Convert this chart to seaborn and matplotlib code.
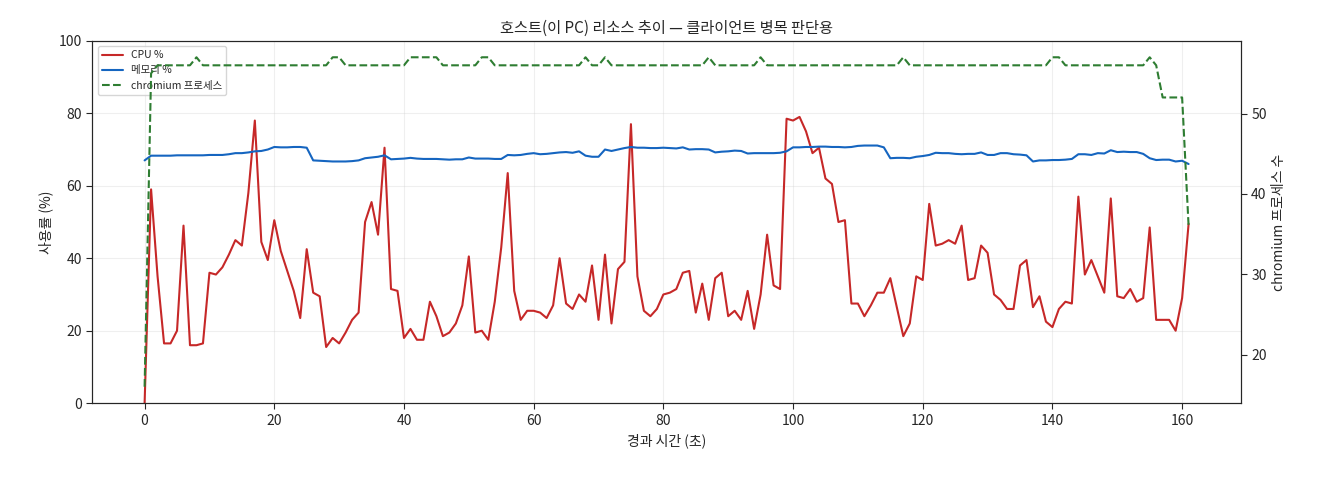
import numpy as np
import pandas as pd
import matplotlib
matplotlib.use("Agg")
import matplotlib.pyplot as plt
import seaborn as sns

sns.set_style("white")
plt.rcParams['font.family'] = ['Noto Sans CJK KR', 'DejaVu Sans']

cpu = [0, 59, 35, 16.5, 16.5, 20, 49, 16, 16, 16.5,
       36, 35.5, 37.5, 41, 45, 43.5, 58, 78, 44.5, 39.5,
       50.5, 42, 36.5, 31, 23.5, 42.5, 30.5, 29.5, 15.5, 18,
       16.5, 19.5, 23, 25, 50, 55.5, 46.5, 70.5, 31.5, 31,
       18, 20.5, 17.5, 17.5, 28, 24, 18.5, 19.5, 22, 27,
       40.5, 19.5, 20, 17.5, 28, 43, 63.5, 31, 23, 25.5,
       25.5, 25, 23.5, 27, 40, 27.5, 26, 30, 28, 38,
       23, 41, 22, 37, 39, 77, 35, 25.5, 24, 26,
       30, 30.5, 31.5, 36, 36.5, 25, 33, 23, 34.5, 36,
       24, 25.5, 23, 31, 20.5, 30, 46.5, 32.5, 31.5, 78.5,
       78, 79, 75, 69, 70.5, 62, 60.5, 50, 50.5, 27.5,
       27.5, 24, 27, 30.5, 30.5, 34.5, 26.5, 18.5, 22, 35,
       34, 55, 43.5, 44, 45, 44, 49, 34, 34.5, 43.5,
       41.5, 30, 28.5, 26, 26, 38, 39.5, 26.5, 29.5, 22.5,
       21, 26, 28, 27.5, 57, 35.5, 39.5, 35, 30.5, 56.5,
       29.5, 29, 31.5, 28, 29, 48.5, 23, 23, 23, 20,
       29, 49.5]

mem = [67.0, 68.3, 68.3, 68.3, 68.3, 68.4, 68.4, 68.4, 68.4, 68.4,
       68.5, 68.5, 68.5, 68.7, 69.0, 69.0, 69.2, 69.5, 69.6, 70.0,
       70.7, 70.6, 70.6, 70.7, 70.7, 70.5, 67.0, 66.9, 66.8, 66.7,
       66.7, 66.7, 66.8, 67.0, 67.6, 67.8, 68.0, 68.4, 67.3, 67.4,
       67.5, 67.7, 67.5, 67.4, 67.4, 67.4, 67.3, 67.2, 67.3, 67.3,
       67.8, 67.5, 67.5, 67.5, 67.4, 67.4, 68.5, 68.4, 68.5, 68.8,
       69.0, 68.7, 68.8, 69.0, 69.2, 69.3, 69.1, 69.5, 68.3, 68.0,
       68.0, 70.0, 69.6, 70.0, 70.4, 70.7, 70.5, 70.5, 70.4, 70.4,
       70.5, 70.4, 70.3, 70.6, 70.0, 70.1, 70.1, 70.0, 69.2, 69.4,
       69.5, 69.7, 69.6, 68.9, 69.0, 69.0, 69.0, 69.0, 69.1, 69.5,
       70.6, 70.6, 70.7, 70.7, 70.8, 70.8, 70.7, 70.7, 70.6, 70.7,
       71.0, 71.1, 71.1, 71.1, 70.6, 67.6, 67.7, 67.7, 67.6, 68.0,
       68.2, 68.5, 69.1, 69.0, 69.0, 68.8, 68.7, 68.8, 68.8, 69.2,
       68.5, 68.5, 69.0, 69.0, 68.7, 68.6, 68.4, 66.7, 67.0, 67.0,
       67.1, 67.1, 67.2, 67.4, 68.7, 68.7, 68.5, 69.0, 68.9, 69.8,
       69.3, 69.4, 69.3, 69.3, 68.8, 67.6, 67.1, 67.2, 67.2, 66.7,
       66.9, 66.0]

procs = [16, 55, 56, 56, 56, 56, 56, 56, 57, 56,
         56, 56, 56, 56, 56, 56, 56, 56, 56, 56,
         56, 56, 56, 56, 56, 56, 56, 56, 56, 57,
         57, 56, 56, 56, 56, 56, 56, 56, 56, 56,
         56, 57, 57, 57, 57, 57, 56, 56, 56, 56,
         56, 56, 57, 57, 56, 56, 56, 56, 56, 56,
         56, 56, 56, 56, 56, 56, 56, 56, 57, 56,
         56, 57, 56, 56, 56, 56, 56, 56, 56, 56,
         56, 56, 56, 56, 56, 56, 56, 57, 56, 56,
         56, 56, 56, 56, 56, 57, 56, 56, 56, 56,
         56, 56, 56, 56, 56, 56, 56, 56, 56, 56,
         56, 56, 56, 56, 56, 56, 56, 57, 56, 56,
         56, 56, 56, 56, 56, 56, 56, 56, 56, 56,
         56, 56, 56, 56, 56, 56, 56, 56, 56, 56,
         57, 57, 56, 56, 56, 56, 56, 56, 56, 56,
         56, 56, 56, 56, 56, 57, 56, 52, 52, 52,
         52, 36]

elapsed = np.arange(len(cpu))
df = pd.DataFrame({"t": elapsed, "cpu": cpu, "mem": mem, "procs": procs})

fig, ax = plt.subplots(figsize=(13.2, 4.8), dpi=100)
sns.lineplot(data=df, x="t", y="cpu", ax=ax, color="#c62828", lw=1.5, label="CPU %")
sns.lineplot(data=df, x="t", y="mem", ax=ax, color="#1565c0", lw=1.5, label="메모리 %")
ax2 = ax.twinx()
sns.lineplot(data=df, x="t", y="procs", ax=ax2, color="#2e7d32", lw=1.5,
             linestyle="--", label="chromium 프로세스", legend=False)
ax.set_ylim(0, 100)
ax.grid(True, alpha=0.3)
ax.set_xlabel("경과 시간 (초)", fontsize=10)
ax.set_ylabel("사용률 (%)", fontsize=10)
ax2.set_ylabel("chromium 프로세스 수", fontsize=10)
ax.set_title("호스트(이 PC) 리소스 추이 — 클라이언트 병목 판단용", fontsize=11)
ax.tick_params(labelsize=10, left=True, bottom=True, length=4)
ax2.tick_params(labelsize=10, right=True, length=4)
h1, l1 = ax.get_legend_handles_labels()
h2, l2 = ax2.get_legend_handles_labels()
ax.legend(h1 + h2, l1 + l2, loc="upper left", fontsize=7.5)
fig.subplots_adjust(left=0.07, right=0.94, top=0.915, bottom=0.16)
fig.savefig("out.png", dpi=100)
